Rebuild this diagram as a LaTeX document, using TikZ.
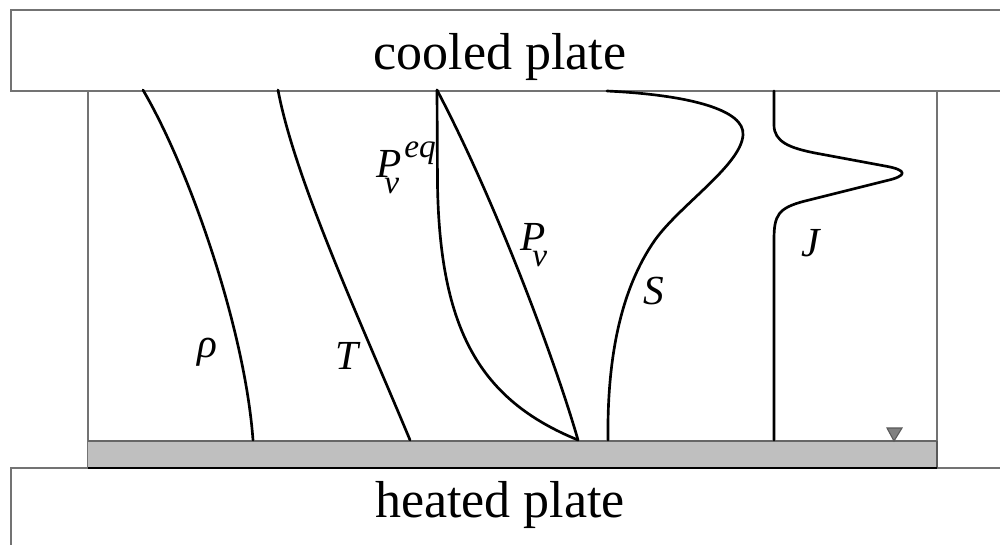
\documentclass[tikz,border=0pt]{standalone}
\usepackage{fontspec}
\setmainfont{Liberation Serif}
\newcommand{\subsz}{\fontsize{25}{28}\selectfont}
\begin{document}
\begin{tikzpicture}[x=0.75pt,y=-0.75pt,
  plate/.style={draw=black!55,line width=1.5pt},
  curve/.style={draw=black,line width=2pt,line join=round,line cap=round},
  platelabel/.style={font=\fontsize{39}{44}\selectfont},
  varlabel/.style={font=\fontsize{31}{36}\selectfont\itshape,inner sep=0pt,anchor=base west}]
\useasboundingbox (0,0) rectangle (1000,544);
\fill[white] (0,0) rectangle (1000,544);
% plates
\draw[plate] (1005,10) -- (11,10) -- (11,90.5) -- (1005,90.5);
\draw[plate] (1005,468) -- (11,468) -- (11,550);
% chamber walls
\draw[plate] (88,90.5) -- (88,468);
\draw[plate] (937,90.5) -- (937,468);
% grey layer
\fill[black!25] (88,441) rectangle (937,468);
\draw[draw=black!60,line width=1.2pt] (88,441) -- (937,441);
\draw[draw=black!65,line width=1.5pt] (937,441) -- (937,468);
\draw[draw=black,line width=1.5pt] (88,468) -- (937,468);
\node[coordinate] (tri) at (894,441) {};
\draw[fill=black!50,draw=black!65,line width=0.8pt] (887,428) -- (902,428) -- (tri) -- cycle;
% labels of plates
\node[platelabel] (cooled) at (500,57) {cooled plate};
\node[platelabel] (heated) at (500,505) {heated plate};
% curves
\draw[curve] (143,90) .. controls (190,170) and (245,330) .. (253,440);
\draw[curve] (278,90) .. controls (295,180) and (360,320) .. (410,440);
\draw[curve] (437,90) -- (437.5,185) .. controls (440,330) and (480,400) .. (578,440);
\draw[curve] (437,90) .. controls (495,200) and (555,360) .. (578,440);
\draw[curve] (607,91) .. controls (690,95) and (745,110) .. (743,135)
  .. controls (741,165) and (680,205) .. (655,240)
  .. controls (620,290) and (607,360) .. (608,440);
\draw[curve] (774,91) -- (774,125) .. controls (774,142) and (790,148) .. (815,153)
  -- (885,166) .. controls (908,170) and (908,176) .. (885,181)
  -- (805,201) .. controls (778,208) and (774,215) .. (774,240) -- (774,440);
% variable labels
\node[varlabel] (rho) at (197,357) {ρ};
\node[varlabel] (T) at (335,369) {T};
\node[varlabel] (Peq) at (376,177) {\rlap{P}\rlap{\hspace{6pt}\raisebox{-12pt}{\subsz v}}\hspace{21pt}\raisebox{15pt}{\subsz eq}};
\node[varlabel] (Pv) at (520,250) {\rlap{P}\hspace{9pt}\raisebox{-12pt}{\subsz v}};
\node[varlabel] (S) at (643,304) {S};
\node[varlabel] (J) at (801,256) {J};
\end{tikzpicture}
\end{document}
